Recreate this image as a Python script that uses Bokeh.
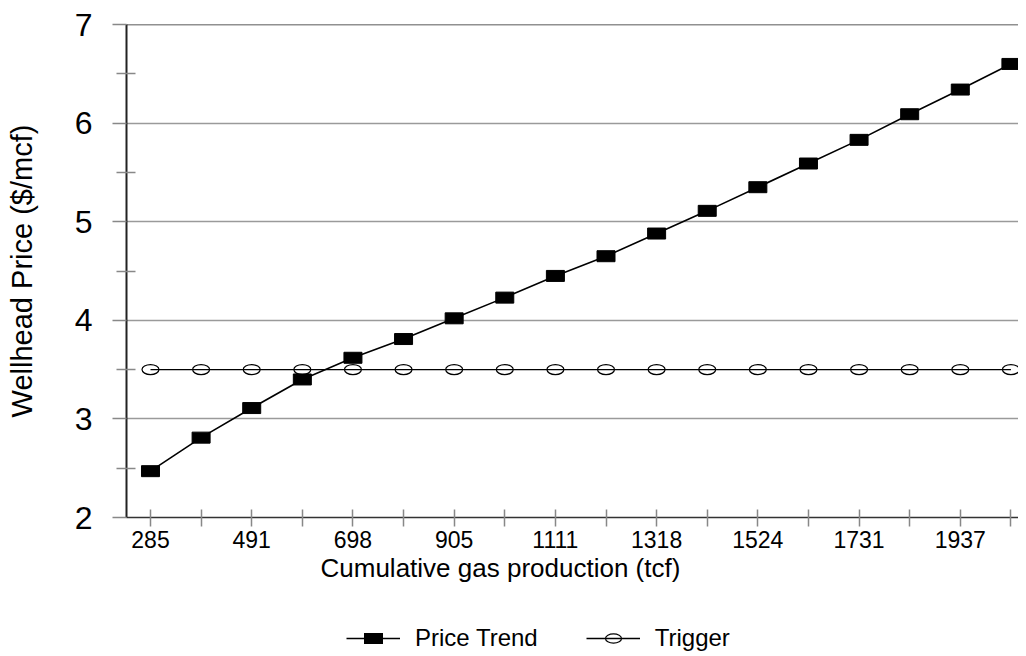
from bokeh.plotting import figure
from bokeh.layouts import column
from bokeh.models import Range1d, FixedTicker, Legend, LegendItem, Span, Title
from bokeh.embed import file_html
from bokeh.resources import INLINE

# ---- data ----
production = ["285", "388", "491", "595", "698", "801", "905", "1008", "1111",
              "1214", "1318", "1421", "1524", "1627", "1731", "1834", "1937", "2040"]
price_trend = [2.47, 2.81, 3.11, 3.40, 3.62, 3.81, 4.02, 4.23, 4.45,
               4.65, 4.88, 5.11, 5.35, 5.59, 5.83, 6.09, 6.34, 6.60]
trigger = [3.5, 3.5, 3.5, 3.5, 3.5, 3.5, 3.5, 3.5, 3.5,
           3.5, 3.5, 3.5, 3.5, 3.5, 3.5, 3.5, 3.5, 3.5]
y_ticks = [2, 3, 4, 5, 6, 7]
y_minor = [2.5, 3.5, 4.5, 5.5, 6.5]

xs = list(range(len(production)))
FONT = "Liberation Sans"
W = 1018

p = figure(width=W, height=596, output_backend="svg", toolbar_location=None,
           x_range=Range1d(-0.474, 17.15), y_range=Range1d(2, 7),
           min_border_left=126, min_border_top=24, min_border_bottom=79,
           min_border_right=0)
p.outline_line_color = None
p.background_fill_color = "white"
p.border_fill_color = "white"

# grid
p.xgrid.visible = False
p.ygrid.grid_line_color = "#9a9a9a"
p.ygrid.grid_line_width = 1.5
p.ygrid.ticker = FixedTicker(ticks=y_ticks)
p.add_layout(Span(location=7, dimension="width", line_color="#222222", line_width=1.5))

# x axis
p.xaxis.ticker = FixedTicker(ticks=xs)
p.xaxis.major_label_overrides = {i: (lab if i % 2 == 0 else "") for i, lab in enumerate(production)}
p.xaxis.major_tick_in = 8
p.xaxis.major_tick_out = 9
p.xaxis.major_tick_line_color = "#888888"
p.xaxis.major_tick_line_width = 1.5
p.xaxis.minor_tick_line_color = None
p.xaxis.axis_line_color = "#333333"
p.xaxis.axis_line_width = 1.5
p.xaxis.major_label_text_font = FONT
p.xaxis.major_label_text_font_size = "23px"
p.xaxis.major_label_text_color = "black"
p.xaxis.major_label_standoff = 4

# y axis
p.yaxis.ticker = FixedTicker(ticks=y_ticks, minor_ticks=y_minor)
p.yaxis.major_tick_in = 0
p.yaxis.major_tick_out = 14
p.yaxis.major_tick_line_color = "#888888"
p.yaxis.major_tick_line_width = 1.5
p.yaxis.minor_tick_in = 9
p.yaxis.minor_tick_out = 10
p.yaxis.minor_tick_line_color = "#888888"
p.yaxis.minor_tick_line_width = 1.5
p.yaxis.axis_line_color = "#222222"
p.yaxis.axis_line_width = 2
p.yaxis.major_label_text_font = FONT
p.yaxis.major_label_text_font_size = "32px"
p.yaxis.major_label_text_color = "black"
p.yaxis.major_label_standoff = 20
p.yaxis.axis_label = "Wellhead Price ($/mcf)"
p.yaxis.axis_label_text_font = FONT
p.yaxis.axis_label_text_font_size = "29px"
p.yaxis.axis_label_text_font_style = "normal"
p.yaxis.axis_label_text_color = "black"
p.yaxis.axis_label_standoff = 34

# x axis title (below-panel title so it can sit left of centre as in the reference)
p.add_layout(Title(text="Cumulative gas production (tcf)", align="left", offset=194,
                   standoff=0, text_font=FONT, text_font_size="26px",
                   text_font_style="normal", text_color="black"), "below")

# series
p.line(xs, trigger, line_color="black", line_width=1.3)
p.ellipse(xs, trigger, width=17, height=10, width_units="screen",
          height_units="screen", fill_color=None, line_color="black", line_width=1.2)
p.line(xs, price_trend, line_color="black", line_width=1.6)
p.rect(xs, price_trend, width=18, height=11, width_units="screen",
       height_units="screen", fill_color="black", line_color="black")

# ---- legend strip (separate figure under the chart) ----
lf = figure(width=W, height=56, output_backend="svg", toolbar_location=None,
            x_range=Range1d(-0.474, 17.15), y_range=Range1d(0, 1),
            x_axis_type=None, y_axis_type=None,
            min_border_left=126, min_border_right=0, min_border_top=0,
            min_border_bottom=0)
lf.outline_line_color = None
lf.background_fill_color = "white"
lf.border_fill_color = "white"

# legend key glyphs (their data lie outside this strip's range, only the keys show)
k_price_line = lf.line(xs[:2], price_trend[:2], line_color="black", line_width=1.6)
k_price_mark = lf.scatter(xs[:1], price_trend[:1], marker="dash", size=8,
                          line_color="black", line_width=11, line_cap="square")
k_trig_line = lf.line(xs[:2], trigger[:2], line_color="black", line_width=1.3)
k_trig_mark = lf.ellipse(xs[:1], trigger[:1], width=17, height=10, width_units="screen",
                         height_units="screen", fill_color=None, line_color="black",
                         line_width=1.2)

legend = Legend(items=[LegendItem(label="Price Trend", renderers=[k_price_line, k_price_mark]),
                       LegendItem(label="Trigger", renderers=[k_trig_line, k_trig_mark])],
                orientation="horizontal", border_line_color=None,
                background_fill_alpha=0, padding=0, spacing=48, margin=0,
                label_standoff=15, glyph_width=54, glyph_height=20, label_height=28,
                label_text_font=FONT, label_text_font_size="24px",
                label_text_color="black", location=(220, 0))
lf.add_layout(legend)

open("out.html", "w").write(file_html(column(p, lf, spacing=0), INLINE))
